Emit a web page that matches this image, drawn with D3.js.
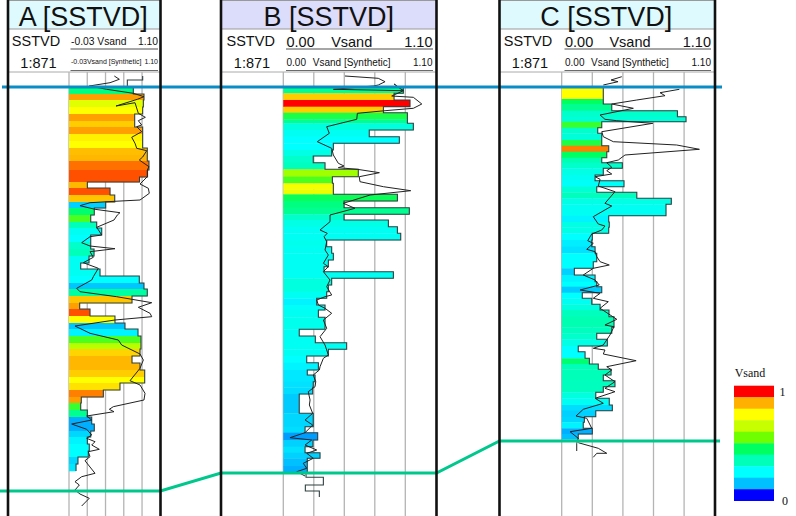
<!DOCTYPE html>
<html>
<head>
<meta charset="utf-8">
<script src="https://cdn.jsdelivr.net/npm/d3@7"></script>
<style>
  html, body { margin: 0; padding: 0; background: #fff; }
  svg { display: block; }
  text { font-family: "Liberation Sans", Arial, sans-serif; fill: #111; }
</style>
</head>
<body>
<div id="chart"></div>
<script>
// depth = metres-ish below the top marker, vsand = blocked value, facies = value the colour comes from
// null facies means the blocked log has no fill outside the zone
const wellADepth = [-11,-7,0,7,13,20,27,34,40,47,54,61,68,74,83,90,95,101,108,115,121,128,135,141,148,155,162,169,176,182,189,196,202,209,216,222,229,236,242,249,256,262,269,276,283,290,296,303,310,316,323,330,337,344,350,357,364,370,377,384];
const wellAVsand = [.882,.692,.766,.898,.89,.882,.783,.783,.882,.882,.882,.939,.939,.96,.942,.843,.197,.478,.536,.424,.283,.239,.313,.375,.239,.239,.28,.218,.115,.354,.84,.898,.939,.75,.102,.23,.539,.663,.824,.861,.861,.849,.75,.849,.907,.907,.601,.395,.122,.115,.197,.251,.283,.239,.197,.221,.209,.081,.057,.057];
const wellAFacies = [null,null,.4,.9,.72,.78,.9,.85,.9,.8,.78,.87,.88,.93,.95,.95,.88,.95,.86,.14,.42,.52,.33,.24,.22,.3,.33,.24,.24,.24,.22,.12,.36,.86,.9,.95,.78,.12,.2,.52,.65,.84,.88,.88,.85,.78,.82,.92,.9,.5,.38,.1,.1,.15,.2,.22,.22,.15,.18,null];

const wellBDepth = [0,6.3,13,19.7,25.7,32.3,36.3,43,49.7,56.3,63,69,75.7,82.3,89.7,96.3,102.3,107.3,114,120.7,127.3,133,139.7,146.3,153,159.7,166.3,173,179.7,184.7,191.3,198,204.7,211.3,218,223,230.3,242.3,249,255.7,262.3,269,275.7,283,288,294.7,300.3,307,326.3,339.7,345.7,353,359.7,365.7,371.3,379,385.7,390.3,398,404,410];
const wellBVsand = [.866,.799,.914,.722,.895,.895,.938,.62,.837,.361,.349,.216,.301,.541,.354,.361,.361,.823,.438,.909,.438,.758,.823,.847,.313,.349,.361,.325,.294,.794,.349,.325,.313,.241,.301,.253,.301,.115,.231,.457,.325,.169,.253,.173,.229,.216,.212,.115,.216,.157,.248,.214,.157,.265,.173,.173,.164,.289,.159,.26,.26];
const wellBFacies = [.38,.85,1,.85,.47,.38,.27,.24,.22,.22,.26,.3,.32,.62,.52,.76,.74,.45,.4,.38,.3,.26,.24,.24,.25,.24,.24,.24,.24,.24,.27,.27,.24,.2,.23,.24,.25,.24,.24,.24,.24,.22,.2,.18,.18,.17,.16,.13,.15,.16,.09,.14,.17,.14,.11,.1,null,null,null,null,null];

const wellCDepth = [0,12,17,23.7,29.7,34.7,40.7,46.3,53,58.7,64.7,70.7,75.7,81.3,88,93.7,99.7,105.3,111.3,117.3,123,128.7,135,140.3,146.3,153,159.7,166.3,174.7,181.3,188,194.7,199.7,205.7,211.3,217.3,223,229.7,234.7,240.3,246.3,252.3,259,264.7,271.3,277,282.3,288,293.7,299.7,305.3,311.3,318,323.7,329.7,335.3,341.3,347,352.3];
const wellCVsand = [.299,.299,.36,.832,.894,.288,.259,.288,.288,.338,.324,.288,.436,.299,.24,.448,.252,.54,.788,.75,.75,.338,.342,.338,.22,.216,.24,.252,.227,.091,.24,.252,.288,.148,.216,.276,.34,.376,.376,.36,.252,.328,.119,.168,.199,.263,.355,.299,.383,.299,.245,.342,.364,.245,.163,.155,.22,.119,.119];
const wellCFacies = [.78,.44,.38,.3,.28,.5,.3,.28,.47,.92,.44,.34,.3,.26,.24,.23,.29,.32,.26,.24,.24,.2,.26,.26,.22,.19,.17,.22,.22,.14,.2,.22,.13,.22,.24,.27,.32,.34,.34,.32,.3,.26,.22,.22,.42,.33,.33,.33,.32,.32,.27,.24,.16,.14,.15,.2,.1,.11,null];

// synthetic curves, [depth, vsand], null breaks the line
const wellACurve = [[-11,.531],[-7.7,.593],[-4.3,.478],[-1,.221],[2.3,.437],[6.3,.766],[9.7,.898],[12.3,.816],[19,.552],[15.7,.787],[26.3,.828],[30.3,.915],[33.7,.828],[38,.87],[39.7,.808],[44.7,.87],[50.3,.746],[56.3,.787],[61.3,.808],[63.7,.932],[70,.882],[73,.84],[79.7,.96],[83,.939],[89.7,.939],[97,.849],[101.3,.952],[106.3,.964],[113,.849],[114.3,.536],[115.7,.23],[118.7,.106],[122.3,.292],[125.7,.601],[128,.568],[133,.527],[140.3,.313],[148,.375],[149.7,.23],[155.7,.127],[159,.23],[161.7,.539],[164.7,.23],[170.3,.271],[175.7,.147],[181.3,.333],[189.7,.271],[193,.251],[201.3,.065],[204.7,.106],[209.7,.56],[215.7,.994],[220.3,.828],[226.3,.973],[229.7,.994],[233,.539],[239,.044],[246.3,.23],[253,.58],[258,.622],[267,.849],[273,.89],[281.3,.849],[293.7,.725],[298,.849],[306.3,.911],[313,.898],[319.7,.518],[322.3,.469],[324.7,.527],[329,.189],[333,.251],[337,.003],[342.3,.189],[348,.251],[351.3,.189],[354.7,.292],[358,.251],[362.3,.345],[364.7,.209],[369.7,.23],[373.7,.168],[386.3,.292],[389.7,.127],[394.7,.044],[398,.098],[403,.044],[407,.106],[411.3,.221],[419,.127]];

const wellBCurve = [[-11,.445],[-8.7,.685],[-5.3,.734],[-2,.685],[-1,.649],[2.3,.361],[3.7,.866],[-3,.799],[3.7,.866],[9,.782],[10.3,.938],[17,.999],[21.3,.938],[23.7,.734],[26.3,.534],[32.3,.53],[39.7,.313],[46.3,.332],[54.7,.245],[61.3,.349],[68,.361],[76.3,.397],[79,.438],[80.7,.397],[82.3,.534],[85.7,.693],[89.7,.548],[94.7,.553],[99.7,.722],[103.7,.919],[108,.626],[116.3,.433],[121.3,.517],[128,.337],[134.7,.337],[143,.265],[146.3,.317],[149.7,.294],[154.7,.313],[163,.301],[168,.325],[176.3,.289],[179.7,.325],[184.7,.289],[193,.337],[199.7,.313],[208,.349],[209.7,.301],[213,.241],[218,.253],[221.3,.301],[226.3,.349],[233,.289],[241.3,.313],[249.7,.265],[258,.301],[268,.325],[271.3,.289],[279.7,.265],[283,.26],[288,.216],[294.7,.234],[299.7,.229],[304.7,.18],[313,.193],[318,.188],[326.3,.212],[333,.157],[338,.212],[345.7,.157],[350.7,.048],[353,.205],[358,.157],[363,.241],[366.3,.169],[371.3,.216],[376.3,.144],[381.3,.169],[384.7,.097],[389,.157]];

const wellCCurve = [[-10.3,.432],[-7,.355],[-5.3,.405],[-2,.299],null,[2.3,.846],[5.7,.707],[8.7,.743],[13,.54],[17,.36],[21.3,.515],[28,.276],[32.3,.311],[33.7,.396],[36.3,.655],[44.7,.288],[49.7,.299],[54.7,.371],[58,.827],[62.3,.99],[68,.455],[73,.407],[75.7,.324],[80.3,.36],[83.7,.324],[87,.36],[89.7,.24],[92.3,.276],[99,.263],[104.7,.383],[116.3,.311],[119,.36],[129.7,.227],[137,.263],[139,.311],[143,.288],[147,.216],[153.7,.187],[156.3,.227],[162.3,.18],[164.7,.24],[169.7,.252],[174.7,.276],[178,.342],[181.3,.227],[188,.155],[193,.24],[198,.27],[203,.132],[206.3,.276],[211.3,.227],[214.7,.335],[221.3,.276],[232.3,.396],[238,.311],[239.7,.376],[248,.347],[258,.299],[261.3,.227],[263,.311],[267,.299],[273.7,.535],[279.7,.324],[283,.36],[288,.311],[294.7,.383],[301.3,.311],[304.7,.383],[311.3,.24],[316.3,.299],[322.3,.155],[329,.103],[331.3,.18],[341.3,.216],[344.7,.06],[351.3,.119],[356.3,.108],[364,.108],null,[355.7,.119],[361.3,.263],[366.3,.324],[366.3,.252],[370.3,.227]];

const wellNames = ['A [SSTVD]', 'B [SSTVD]', 'C [SSTVD]'];
const trackMin = ['-0.03', '0.00', '0.00'];
const trackMax = ['1.10', '1.10', '1.10'];
const baseDepth = [404, 386, 354];
const topDepth = [0, 0, 0];
const legendValues = [1, .89, .78, .67, .56, .44, .33, .22, .11, 0];
const legendColors = ['#ff0000','#ffb000','#ffff00','#c8ff00','#70ff00','#00ff60','#00ffb8','#00ffff','#00c0ff','#0000ff'];

const W = 796, H = 516;
const svg = d3.select('#chart').append('svg').attr('width', W).attr('height', H);

const yScale = d3.scaleLinear().domain([0, 429]).range([87, 516]);
const colorScale = d3.scaleLinear().domain(legendValues).range(legendColors);

// layout of the three panels
const wells = [
  {name: wellNames[0], left: 8, right: 160.5, head: '#dffaff', domain: [-0.03, 1.10], range: [69, 160.3],
   depth: wellADepth, vsand: wellAVsand, facies: wellAFacies, bottom: 384, curve: wellACurve,
   logX: 36, scaleX: 38.5, textL: 71, textC: null, textR: 158, lineR: 158, min: trackMin[0], max: trackMax[0]},
  {name: wellNames[1], left: 221, right: 436.5, head: '#dcdcfb', domain: [0, 1.10], range: [283.3, 435.8],
   depth: wellBDepth, vsand: wellBVsand, facies: wellBFacies, bottom: 410, curve: wellBCurve,
   logX: 250.7, scaleX: 252, textL: 286.5, textC: 351.7, textR: 432.5, lineR: 433, min: trackMin[1], max: trackMax[1]},
  {name: wellNames[2], left: 499.5, right: 715, head: '#dffaff', domain: [0, 1.10], range: [561.7, 714.7],
   depth: wellCDepth, vsand: wellCVsand, facies: wellCFacies, bottom: 352.3, curve: wellCCurve,
   logX: 528, scaleX: 530, textL: 565, textC: 630, textR: 711, lineR: 711, min: trackMin[2], max: trackMax[2]}
];

const addText = (x, y, size, anchor, str) => svg.append('text')
  .attr('x', x).attr('y', y)
  .attr('text-anchor', anchor)
  .style('font-size', size + 'px')
  .text(str);

function drawHeader(w, i) {
  const cx = (w.left + w.right) / 2;
  svg.append('rect').attr('x', w.left).attr('y', 1).attr('width', w.right - w.left).attr('height', 28)
    .attr('fill', w.head);
  svg.append('line').attr('x1', w.left).attr('x2', w.right).attr('y1', 0.5).attr('y2', 0.5).attr('stroke', '#999');
  svg.append('line').attr('x1', w.left).attr('x2', w.right).attr('y1', 29).attr('y2', 29).attr('stroke', '#999').attr('stroke-width', 1.2);
  svg.append('line').attr('x1', w.left).attr('x2', w.right).attr('y1', 72).attr('y2', 72).attr('stroke', '#aaa');
  addText(cx + (i == 1 ? 0 : -1), 26, 27, 'middle', w.name);
  addText(w.logX, 46, 14.5, 'middle', 'SSTVD');
  addText(w.scaleX, 68, 14.5, 'middle', '1:871');

  const lx = w.textL;
  if (i == 0) {
    addText(lx, 45, 10.3, 'start', w.min + ' Vsand');
    addText(w.textR, 45, 10.3, 'end', w.max);
    addText(lx, 63.5, 7, 'start', w.min + 'Vsand [Synthetic]');
    addText(w.textR, 63.5, 7, 'end', w.max);
  } else {
    addText(lx, 46.5, 14.5, 'start', w.min);
    addText(w.textC, 46.5, 14.5, 'middle', 'Vsand');
    addText(w.textR, 46.5, 14.5, 'end', w.max);
    addText(lx, 66, 10, 'start', w.min);
    addText(w.textC, 66, 10, 'middle', 'Vsand [Synthetic]');
    addText(w.textR, 66, 10, 'end', w.max);
  }
  svg.append('line').attr('x1', lx - 0.5).attr('x2', w.lineR).attr('y1', 49).attr('y2', 49).attr('stroke', '#888').attr('stroke-width', 1.6);
  svg.append('line').attr('x1', lx - 0.5).attr('x2', w.lineR).attr('y1', 70.5).attr('y2', 70.5).attr('stroke', '#444').attr('stroke-width', 0.8);
}

function drawTrack(w) {
  const x = d3.scaleLinear().domain(w.domain).range(w.range);

  // five divisions across the track
  const grid = d3.range(5).map(k => w.domain[0] + k * (w.domain[1] - w.domain[0]) / 5);
  svg.append('g').selectAll('line').data(grid).join('line')
    .attr('x1', d => x(d)).attr('x2', d => x(d))
    .attr('y1', 72).attr('y2', H)
    .attr('stroke', '#b4b4b4').attr('stroke-width', 1.3);

  const rows = w.depth.map((d, i) => ({
    top: d,
    bot: i < w.depth.length - 1 ? w.depth[i + 1] : w.bottom,
    vsand: w.vsand[i],
    facies: w.facies[i]
  }));

  svg.append('g').selectAll('rect').data(rows.filter(r => r.facies !== null)).join('rect')
    .attr('x', x(w.domain[0]))
    .attr('y', d => yScale(d.top))
    .attr('width', d => x(d.vsand) - x(w.domain[0]))
    .attr('height', d => yScale(d.bot) - yScale(d.top) + 0.3)
    .attr('fill', d => colorScale(d.facies));

  // blocked log outline
  const steps = [];
  rows.forEach(r => { steps.push([r.top, r.vsand]); steps.push([r.bot, r.vsand]); });
  svg.append('path')
    .attr('d', d3.line().x(d => x(d[1])).y(d => yScale(d[0]))(steps))
    .attr('fill', 'none').attr('stroke', '#2f3f3f').attr('stroke-width', 1.1);

  // synthetic curve
  const curve = d3.line().defined(d => d !== null).x(d => x(d[1])).y(d => yScale(d[0]));
  svg.append('path')
    .attr('d', curve(w.curve))
    .attr('fill', 'none').attr('stroke', '#222').attr('stroke-width', 1)
    .attr('stroke-linejoin', 'round');
}

function drawMarkers() {
  const points = depths => {
    const pts = [[0, depths[0]]];
    wells.forEach((w, i) => { pts.push([w.left, depths[i]]); pts.push([w.right, depths[i]]); });
    pts.push([720, depths[2]]);
    return pts;
  };
  const line = d3.line().x(d => d[0]).y(d => yScale(d[1]));
  svg.append('path').attr('d', line(points(topDepth).slice(0))).attr('fill', 'none')
    .attr('stroke', '#0a8dc6').attr('stroke-width', 3).attr('transform', 'translate(2,0)');
  svg.append('path').attr('d', line(points(baseDepth))).attr('fill', 'none')
    .attr('stroke', '#00c88c').attr('stroke-width', 3);
}

function drawFrames(w) {
  [w.left, w.right].forEach(px => {
    svg.append('line').attr('x1', px).attr('x2', px).attr('y1', 0).attr('y2', H)
      .attr('stroke', '#111').attr('stroke-width', 2.6);
  });
}

function drawLegend() {
  const ly = d3.scaleBand().domain(legendValues).range([385.7, 500.7]);
  svg.append('g').selectAll('rect').data(legendValues).join('rect')
    .attr('x', 734).attr('width', 40)
    .attr('y', d => ly(d)).attr('height', ly.bandwidth() + 0.3)
    .attr('fill', d => colorScale(d));
  addText(750, 377, 12, 'middle', 'Vsand').style('font-family', '"Liberation Serif", serif');
  addText(782.5, 396, 12, 'middle', '1').style('font-family', '"Liberation Serif", serif');
  addText(785, 505, 12, 'middle', '0').style('font-family', '"Liberation Serif", serif');
}

wells.forEach(drawHeader);
wells.forEach(drawTrack);
drawMarkers();
wells.forEach(drawFrames);
drawLegend();
</script>
</body>
</html>
